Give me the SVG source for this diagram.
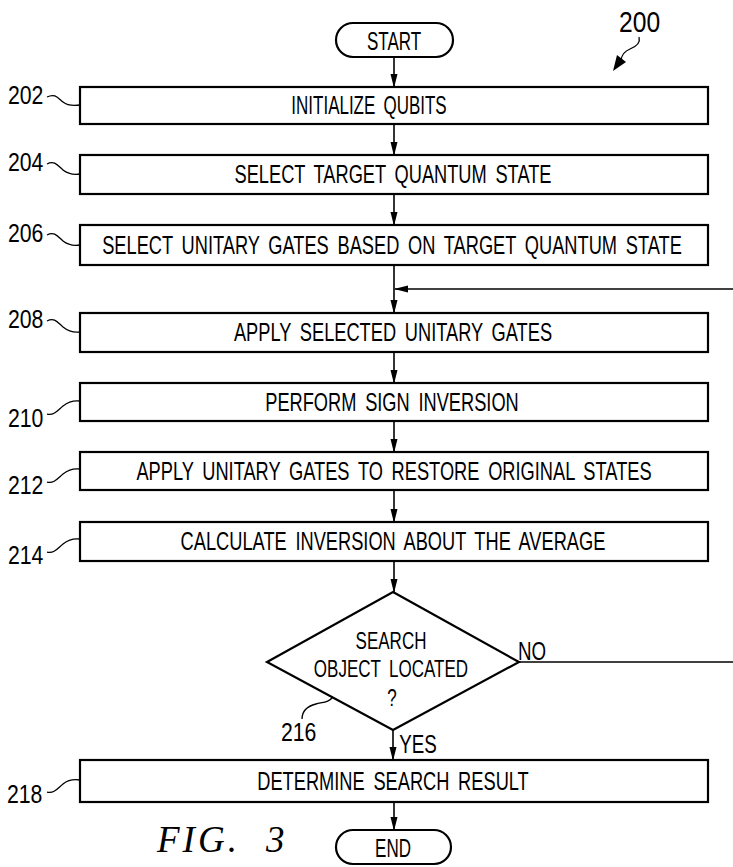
<svg xmlns="http://www.w3.org/2000/svg" width="733" height="867" viewBox="0 0 733 867">
<style>
.box{fill:#fff;stroke:#000;stroke-width:2.2}
.ln{fill:none;stroke:#000;stroke-width:1.6}
.lead{fill:none;stroke:#000;stroke-width:1.3}
.t{font-family:"Liberation Sans",Arial,sans-serif;font-size:25px;word-spacing:5px;fill:#000;text-anchor:middle}
.d{font-family:"Liberation Sans",Arial,sans-serif;font-size:23px;word-spacing:5px;fill:#000;text-anchor:middle}
.n{font-family:"Liberation Sans",Arial,sans-serif;font-size:25px;fill:#000}
.fig{font-family:"Liberation Serif","Times New Roman",serif;font-style:italic;font-size:37px;letter-spacing:3px;fill:#000}
</style>
<defs>
<marker id="ahl" markerWidth="14" markerHeight="8" refX="13" refY="4" orient="auto" markerUnits="userSpaceOnUse" viewBox="0 0 14 8">
<path d="M0,0.5 L14,4 L0,7.5 Z" fill="#000"/>
</marker>
</defs>

<g id="connectors">
<line class="ln" x1="394" y1="57" x2="394" y2="87" marker-end="url(#ahl)"/>
<line class="ln" x1="394" y1="124" x2="394" y2="155" marker-end="url(#ahl)"/>
<line class="ln" x1="394" y1="194" x2="394" y2="225" marker-end="url(#ahl)"/>
<line class="ln" x1="394" y1="265" x2="394" y2="313" marker-end="url(#ahl)"/>
<line class="ln" x1="394" y1="352" x2="394" y2="383" marker-end="url(#ahl)"/>
<line class="ln" x1="394" y1="421" x2="394" y2="452" marker-end="url(#ahl)"/>
<line class="ln" x1="394" y1="490" x2="394" y2="522" marker-end="url(#ahl)"/>
<line class="ln" x1="394" y1="561" x2="394" y2="592" marker-end="url(#ahl)"/>
<line class="ln" x1="393" y1="730" x2="393" y2="760" marker-end="url(#ahl)"/>
<line class="ln" x1="394" y1="802" x2="394" y2="830" marker-end="url(#ahl)"/>
<line class="ln" x1="519" y1="662" x2="733" y2="662"/>
<line class="ln" x1="733" y1="289" x2="395" y2="289" marker-end="url(#ahl)"/>
<text class="t" transform="translate(532,660) scale(0.75,1)">NO</text>
<text class="t" transform="translate(418,753) scale(0.75,1)">YES</text>
</g>

<g id="start">
<rect class="box" x="336" y="23" width="117" height="34" rx="17" ry="17"/>
<text class="t" transform="translate(394,50) scale(0.68,1)">START</text>
</g>

<g id="n202">
<rect class="box" x="80" y="87" width="628" height="37"/>
<text class="t" transform="translate(369,114) scale(0.68,1)">INITIALIZE QUBITS</text>
<text class="n" transform="translate(8,104) scale(0.85,1)">202</text>
<path class="lead" d="M47,97 C55,93 58,98 63,102 S73,106 80,105"/>
</g>

<g id="n204">
<rect class="box" x="80" y="155" width="628" height="39"/>
<text class="t" transform="translate(393,183) scale(0.73,1)">SELECT TARGET QUANTUM STATE</text>
<text class="n" transform="translate(8,171) scale(0.85,1)">204</text>
<path class="lead" d="M47,164 C55,160 58,166 63,170 S73,175 80,174"/>
</g>

<g id="n206">
<rect class="box" x="80" y="225" width="628" height="40"/>
<text class="t" transform="translate(392,254) scale(0.73,1)">SELECT UNITARY GATES BASED ON TARGET QUANTUM STATE</text>
<text class="n" transform="translate(8,242) scale(0.85,1)">206</text>
<path class="lead" d="M47,235 C55,231 58,237 63,241 S73,246 80,245"/>
</g>

<g id="n208">
<rect class="box" x="80" y="313" width="628" height="39"/>
<text class="t" transform="translate(393,341) scale(0.73,1)">APPLY SELECTED UNITARY GATES</text>
<text class="n" transform="translate(8,328) scale(0.85,1)">208</text>
<path class="lead" d="M47,321 C55,317 58,323 63,327 S73,333 80,332"/>
</g>

<g id="n210">
<rect class="box" x="80" y="383" width="628" height="38"/>
<text class="t" transform="translate(392,411) scale(0.73,1)">PERFORM SIGN INVERSION</text>
<text class="n" transform="translate(8,427) scale(0.85,1)">210</text>
<path class="lead" d="M47,414 C54,416 58,410 63,406 S73,400 80,401"/>
</g>

<g id="n212">
<rect class="box" x="80" y="452" width="628" height="38"/>
<text class="t" transform="translate(394,480) scale(0.73,1)">APPLY UNITARY GATES TO RESTORE ORIGINAL STATES</text>
<text class="n" transform="translate(8,494) scale(0.85,1)">212</text>
<path class="lead" d="M47,482 C54,484 58,478 63,474 S73,468 80,469"/>
</g>

<g id="n214">
<rect class="box" x="80" y="522" width="628" height="39"/>
<text class="t" transform="translate(393,550) scale(0.73,1)">CALCULATE INVERSION ABOUT THE AVERAGE</text>
<text class="n" transform="translate(8,564) scale(0.85,1)">214</text>
<path class="lead" d="M47,552 C54,554 58,548 63,544 S73,538 80,539"/>
</g>

<g id="n216">
<polygon class="box" points="393,592 519,662 393,730 267,662"/>
<text class="d" transform="translate(391,649) scale(0.74,1)">SEARCH</text>
<text class="d" transform="translate(391,677) scale(0.74,1)">OBJECT LOCATED</text>
<text class="d" transform="translate(392,706) scale(0.74,1)">?</text>
<text class="n" transform="translate(281,741) scale(0.85,1)">216</text>
<path class="lead" d="M302,719 C302,710 308,706 316,704 S329,702 333,697"/>
</g>

<g id="n218">
<rect class="box" x="80" y="760" width="628" height="42"/>
<text class="t" transform="translate(393,790) scale(0.73,1)">DETERMINE SEARCH RESULT</text>
<text class="n" transform="translate(7,803) scale(0.85,1)">218</text>
<path class="lead" d="M47,792 C54,794 58,788 63,784 S73,779 80,780"/>
</g>

<g id="end">
<rect class="box" x="336" y="830" width="115" height="34" rx="17" ry="17"/>
<text class="t" transform="translate(393,857) scale(0.68,1)">END</text>
</g>

<g id="ref200">
<text class="n" transform="translate(619,32) scale(0.85,1)" style="font-size:29px">200</text>
<path class="lead" d="M639,37 C641,44 635,47 630,49 S622,54 621,60"/>
<path d="M613,71 L617,55 L626,62 Z" fill="#000"/>
</g>

<text class="fig" x="157" y="852">FIG.<tspan dx="26">3</tspan></text>
</svg>
